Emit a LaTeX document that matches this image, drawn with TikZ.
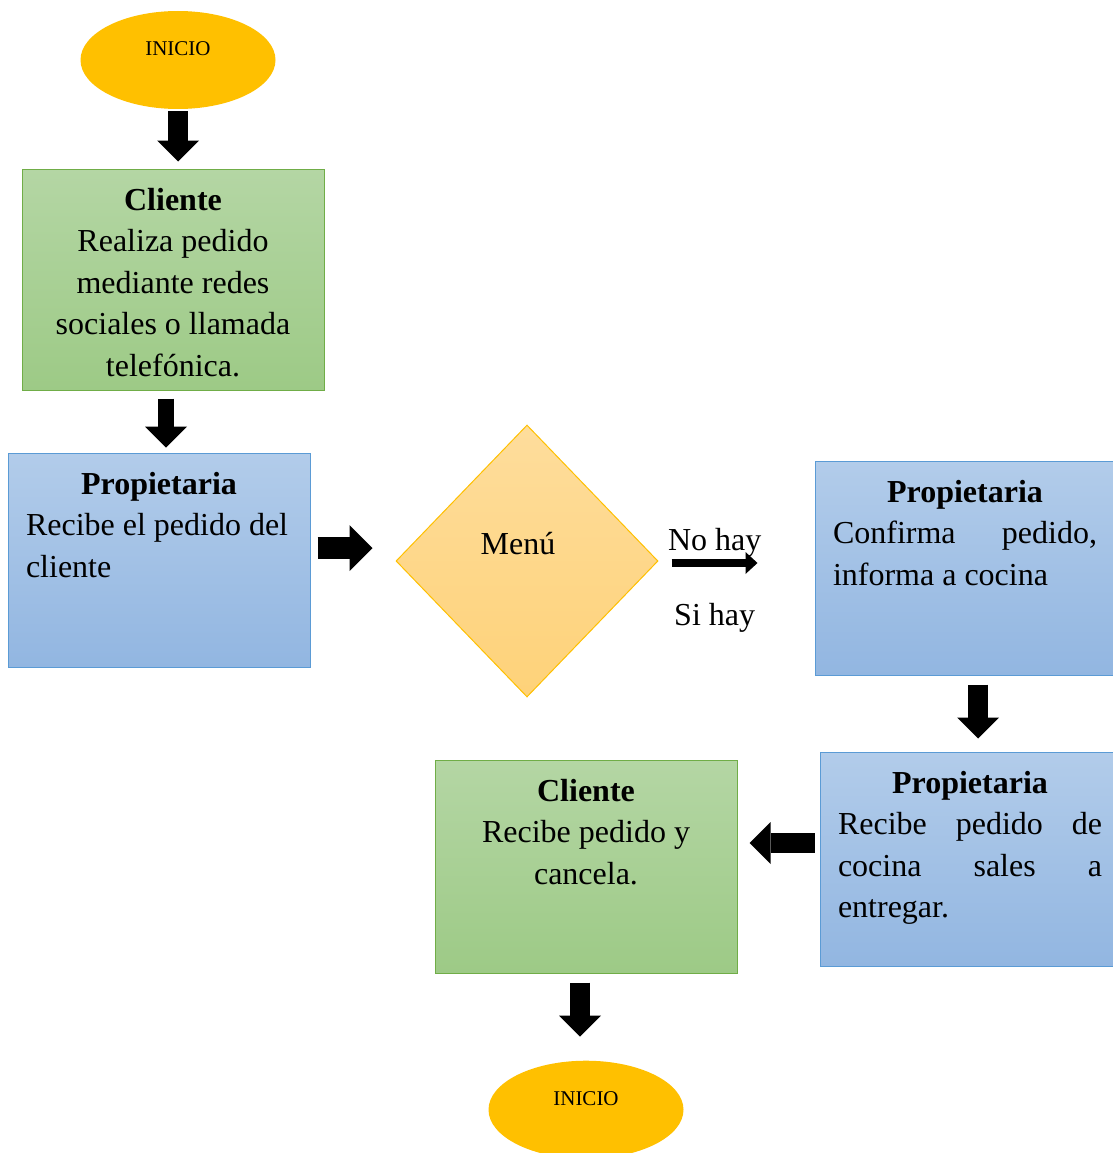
\documentclass[tikz,border=0pt]{standalone}
\usepackage{fontspec}
\setmainfont{Liberation Serif}
\usetikzlibrary{arrows.meta,positioning,shapes.geometric}

\definecolor{naranja}{HTML}{FFC000}
\definecolor{verdeArriba}{HTML}{B4D6A4}
\definecolor{verdeAbajo}{HTML}{9DCA86}
\definecolor{verdeBorde}{HTML}{70AD47}
\definecolor{azulArriba}{HTML}{B2CCEA}
\definecolor{azulAbajo}{HTML}{92B6E1}
\definecolor{azulBorde}{HTML}{5B9BD5}
\definecolor{amarilloArriba}{HTML}{FEDD9C}
\definecolor{amarilloAbajo}{HTML}{FED279}

\begin{document}
\begin{tikzpicture}[x=1pt,y=-1pt,font=\fontsize{32}{41.5}\selectfont,
  inicio/.style={ellipse,fill=naranja,minimum width=195pt,minimum height=98pt,inner sep=0pt,
    font=\fontsize{21}{24}\selectfont,text height=14pt,text depth=22pt},
  verde/.style={draw=verdeBorde,line width=1pt,top color=verdeArriba,bottom color=verdeAbajo,
    inner xsep=20pt,inner ysep=0pt},
  azul/.style={draw=azulBorde,line width=1pt,top color=azulArriba,bottom color=azulAbajo,
    inner xsep=18pt,inner ysep=0pt},
  bloque/.style={line width=20pt,-{Triangle[length=21pt,width=42pt,line width=0pt]}}]
  \useasboundingbox (0,0) rectangle (1112,1153);

  \node (ini1) [inicio] at (178,60) {INICIO};
  \node (cli1) [verde] at (173,279.5) {\parbox[c][221pt][t]{262pt}{\centering\rule{0pt}{41pt}\textbf{Cliente}\\
    Realiza pedido\\ mediante redes\\ sociales o llamada\\ telefónica.}};
  \node (prop1) [azul] at (159,560) {\parbox[c][214pt][t]{266pt}{\centering\rule{0pt}{41pt}\textbf{Propietaria}\par
    \raggedright Recibe el pedido del\\ cliente}};
  \node (menu) [diamond,draw=naranja,line width=1pt,top color=amarilloArriba,bottom color=amarilloAbajo,
    minimum width=262pt,minimum height=272pt,inner sep=0pt,text height=22pt,text depth=35pt]
    at (527,561) {Menú\hspace*{18pt}};
  \node (prop2) [azul] at (965,568) {\parbox[c][214pt][t]{264pt}{\centering\rule{0pt}{41pt}\textbf{Propietaria}\par
    \raggedright\makebox[\linewidth][s]{Confirma pedido,}\\ informa a cocina}};
  \node (prop3) [azul,below=76pt of prop2,xshift=5pt] {\parbox[c][214pt][t]{264pt}{\centering\rule{0pt}{41pt}\textbf{Propietaria}\par
    \raggedright\makebox[\linewidth][s]{Recibe pedido de}\\ \makebox[\linewidth][s]{cocina sales a}\\ entregar.}};
  \node (cli2) [verde] at (586,866.5) {\parbox[c][213pt][t]{262pt}{\centering\rule{0pt}{41pt}\textbf{Cliente}\\
    Recibe pedido y\\ cancela.}};
  \node (fin) [inicio,below=87pt of cli2] {INICIO};

  % flechas de bloque
  \draw[bloque,shorten <=2pt,shorten >=7pt] (ini1.south) -- (ini1.south |- cli1.north);
  \draw[bloque,line width=16pt,shorten <=8pt,shorten >=5pt] ([xshift=-7pt]cli1.south) -- ([xshift=7pt]prop1.north);
  \draw[bloque,line width=22pt,-{Triangle[length=23pt,width=46pt,line width=0pt]},shorten <=7pt,shorten >=23pt]
    ([yshift=12pt]prop1.east) -- ([yshift=12pt]prop1.east -| menu.west);
  \draw[line width=8pt,-{Triangle[length=12pt,width=22pt,line width=0pt]},shorten <=13pt,shorten >=57pt]
    ([yshift=-2pt]menu.east) -- ([yshift=-2pt]menu.east -| prop2.west)
    node[pos=.36,above=2pt,inner sep=0pt] {No hay}
    node[pos=.36,below=36pt,inner sep=0pt] {Si hay};
  \draw[bloque,shorten <=9pt,shorten >=13pt] ([xshift=13pt]prop2.south) -- ([xshift=13pt]prop2.south |- prop3.north);
  \draw[bloque,shorten <=5pt,shorten >=12pt] ([yshift=16pt]prop3.west) -- ([yshift=16pt]prop3.west -| cli2.east);
  \draw[bloque,shorten <=9pt,shorten >=24pt] ([xshift=-6pt]cli2.south) -- ([xshift=-6pt]cli2.south |- fin.north);
\end{tikzpicture}
\end{document}
